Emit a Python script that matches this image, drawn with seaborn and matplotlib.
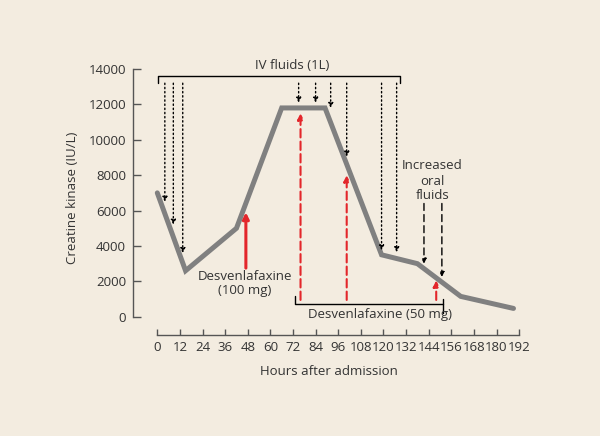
import seaborn as sns
import matplotlib.pyplot as plt
import pandas as pd

# creatine kinase curve
hours = [0, 15, 42, 66, 89, 119, 138, 161, 189]
ck = [7000, 2600, 5000, 11800, 11800, 3500, 3000, 1150, 470]

# IV fluid doses (dotted arrows): hour and where the arrow head stops
iv_hours = [4, 8.5, 13.5, 75, 84, 92, 100.5, 119, 127]
iv_tips = [6500, 5200, 3600, 12100, 12100, 11800, 9050, 3750, 3650]

# increased oral fluids (dashed black arrows)
oral_hours = [141.5, 151]
oral_tips = [3000, 2250]

# desvenlafaxine doses (red arrows)
desv_hours = [47, 76, 100.5, 148]
desv_tips = [5900, 11500, 8000, 2050]
desv_starts = [2750, 950, 950, 950]

x_ticks = list(range(0, 193, 12))
y_ticks = list(range(0, 14001, 2000))

bg = '#F3ECE0'
txt = '#333333'
red = '#E3262B'
fs = 9.5

sns.set_style('ticks', {'axes.facecolor': bg, 'figure.facecolor': bg})
plt.rcParams['font.family'] = ['Open Sans', 'DejaVu Sans']
plt.rcParams['text.color'] = txt

fig = plt.figure(figsize=(6, 4.36), dpi=100)
ax = fig.add_axes([0.2182, 0.2289, 0.6596, 0.6331])

df = pd.DataFrame({'Hours': hours, 'CK': ck})
sns.lineplot(data=df, x='Hours', y='CK', color='#808080', linewidth=3.6,
             ax=ax, solid_joinstyle='miter')

ax.set_xlim(-14, 196)
ax.set_ylim(-1100, 14500)

# detached axes
ax.spines['top'].set_visible(False)
ax.spines['right'].set_visible(False)
ax.spines['left'].set_position(('data', -12.9))
ax.spines['bottom'].set_position(('data', -1035))
ax.spines['left'].set_bounds(0, 14000)
ax.spines['bottom'].set_bounds(0, 192)
for s in ['left', 'bottom']:
    ax.spines[s].set_color('#555555')
    ax.spines[s].set_linewidth(1.0)

ax.set_xticks(x_ticks)
ax.set_yticks(y_ticks)
ax.tick_params(axis='y', direction='in', length=6, width=1, color='#555555',
               labelsize=fs, labelcolor=txt, pad=5)
ax.tick_params(axis='x', direction='in', length=4, width=1, color='#555555',
               labelsize=fs, labelcolor=txt, pad=4)
ax.set_xlabel('Hours after admission', fontsize=fs, color=txt, labelpad=8)
ax.set_ylabel('Creatine kinase (IU/L)', fontsize=fs, color=txt, labelpad=7)

# IV fluids bracket and arrows
ax.plot([0.5, 0.5, 128.8, 128.8], [13200, 13600, 13600, 13200],
        color='black', lw=1, clip_on=False)
ax.text(71.5, 14000, 'IV fluids (1L)', ha='center', va='baseline', fontsize=fs)
for h, tip in zip(iv_hours, iv_tips):
    ax.annotate('', xy=(h, tip), xytext=(h, 13200),
                arrowprops=dict(arrowstyle='-|>', color='black', lw=1,
                                linestyle=(0, (1, 2)), mutation_scale=7,
                                shrinkA=0, shrinkB=0))

# oral fluids
for label, yy in zip(['Increased', 'oral', 'fluids'], [8330, 7450, 6640]):
    ax.text(146, yy, label, ha='center', va='baseline', fontsize=fs)
for h, tip in zip(oral_hours, oral_tips):
    ax.annotate('', xy=(h, tip), xytext=(h, 6400),
                arrowprops=dict(arrowstyle='-|>', color='black', lw=1,
                                linestyle=(0, (5, 3)), mutation_scale=7,
                                shrinkA=0, shrinkB=0))

# desvenlafaxine arrows
for i, (h, tip, start) in enumerate(zip(desv_hours, desv_tips, desv_starts)):
    if i == 0:
        props = dict(arrowstyle='-|>', color=red, lw=2.2, mutation_scale=9,
                     shrinkA=0, shrinkB=0)
    else:
        props = dict(arrowstyle='-|>', color=red, lw=1.5,
                     linestyle=(0, (4, 2)), mutation_scale=9,
                     shrinkA=0, shrinkB=0)
    ax.annotate('', xy=(h, tip), xytext=(h, start), arrowprops=props)

ax.text(46.6, 2070, 'Desvenlafaxine', ha='center', va='baseline', fontsize=fs)
ax.text(46.6, 1300, '(100 mg)', ha='center', va='baseline', fontsize=fs)

# 50 mg bracket
ax.plot([73, 73, 151.7], [1150, 720, 720], color='black', lw=1)
ax.plot([151.7, 151.7], [1000, 200], color='black', lw=1)
ax.text(118, -80, 'Desvenlafaxine (50 mg)', ha='center', va='baseline',
        fontsize=fs)

fig.savefig('out.png', dpi=100, facecolor=bg)
